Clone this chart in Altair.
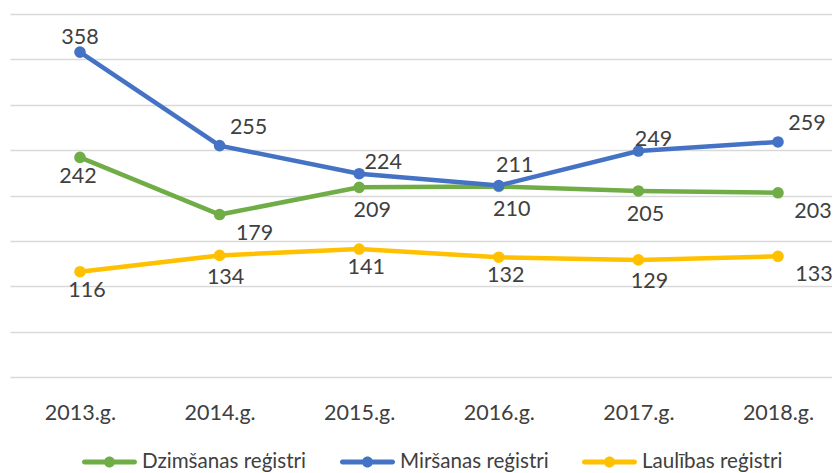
import altair as alt
import pandas as pd
import json

years = ["2013.g.", "2014.g.", "2015.g.", "2016.g.", "2017.g.", "2018.g."]
series = ["Dzimšanas reģistri", "Miršanas reģistri", "Laulības reģistri"]
dzimsanas = [242, 179, 209, 210, 205, 203]
mirsanas = [358, 255, 224, 211, 249, 259]
laulibas = [116, 134, 141, 132, 129, 133]
colors = ["#70AD47", "#4472C4", "#FFC000"]
y_ticks = [0, 50, 100, 150, 200, 250, 300, 350, 400]

rows = []
for si, (s, vals) in enumerate(zip(series, [dzimsanas, mirsanas, laulibas])):
    for yi, (y, v) in enumerate(zip(years, vals)):
        rows.append({"year": y, "series": s, "value": v, "ord": si * 10 + yi})
df = pd.DataFrame(rows)

FONT = "Lato"
FS = 21.5
LFS = 20.6
TXT = "#404040"

x_enc = alt.X("year:N", sort=years, title=None,
              scale=alt.Scale(type="point", padding=0.444, align=0.5645),
              axis=alt.Axis(labelFontSize=FS, labelFont=FONT, labelColor=TXT,
                            domain=False, ticks=False, tickSize=0, grid=False,
                            labelPadding=36, labelBaseline="middle", labelAngle=0))
y_enc = alt.Y("value:Q", title=None,
              scale=alt.Scale(domain=[0, 400], nice=False, zero=True),
              axis=alt.Axis(values=y_ticks, labels=False, ticks=False, domain=False,
                            grid=True, gridColor="#D9D9D9", gridWidth=1.5))

legend_path = ("M-0.91,-0.09 L0.91,-0.09 A0.09,0.09 0 0,1 0.91,0.09 "
               "L-0.91,0.09 A0.09,0.09 0 0,1 -0.91,-0.09 Z "
               "M-0.2,0 A0.2,0.2 0 1,1 0.2,0 A0.2,0.2 0 1,1 -0.2,0 Z")

color_enc = alt.Color(
    "series:N", scale=alt.Scale(domain=series, range=colors), sort=series,
    legend=alt.Legend(title=None, orient="none", direction="horizontal",
                      legendX=72, legendY=420, padding=0,
                      symbolType=legend_path, symbolSize=3025,
                      symbolStrokeWidth=0, symbolOpacity=1,
                      labelFont=FONT, labelFontSize=LFS, labelColor=TXT,
                      labelLimit=400, labelOffset=5, columnPadding=32))

base = alt.Chart(df)

lines = base.mark_line(strokeWidth=4.5).encode(
    x=x_enc, y=y_enc, color=color_enc, order=alt.Order("ord:Q"),
)

points = base.mark_point(filled=True, size=135, opacity=1, shape="circle").encode(
    x=x_enc, y=y_enc, color=color_enc, order=alt.Order("ord:Q"),
)


def labels(name, yrs, dx, dy):
    expr = f"datum.series == {json.dumps(name)} && indexof({json.dumps(yrs)}, datum.year) >= 0"
    return base.transform_filter(expr).mark_text(
        dx=dx, dy=dy, font=FONT, fontSize=FS, color=TXT
    ).encode(x=x_enc, y=y_enc, text=alt.Text("value:Q"))


label_layers = [
    labels(series[1], ["2013.g."], 0, -14),
    labels(series[1], ["2014.g.", "2018.g."], 29, -18),
    labels(series[1], ["2015.g."], 24, -11),
    labels(series[1], ["2017.g."], 15, -11),
    labels(series[1], ["2016.g."], 16, -20),
    labels(series[0], ["2013.g."], -2, 20),
    labels(series[0], ["2014.g.", "2018.g."], 35, 19),
    labels(series[0], ["2015.g.", "2016.g."], 13, 24),
    labels(series[0], ["2017.g."], 7, 24),
    labels(series[2], ["2013.g.", "2015.g.", "2016.g."], 7, 19),
    labels(series[2], ["2014.g."], 6, 23),
    labels(series[2], ["2017.g."], 11, 22),
    labels(series[2], ["2018.g."], 36, 19),
]

chart = alt.layer(lines, points, *label_layers).properties(
    width=822, height=363,
    autosize=alt.AutoSizeParams(type="none"),
    padding={"left": 2, "top": 6, "right": 0, "bottom": 96},
).configure(font=FONT).configure_view(strokeWidth=0, stroke="transparent")

chart.save("out.html", embed_options={"renderer": "svg", "actions": False})
